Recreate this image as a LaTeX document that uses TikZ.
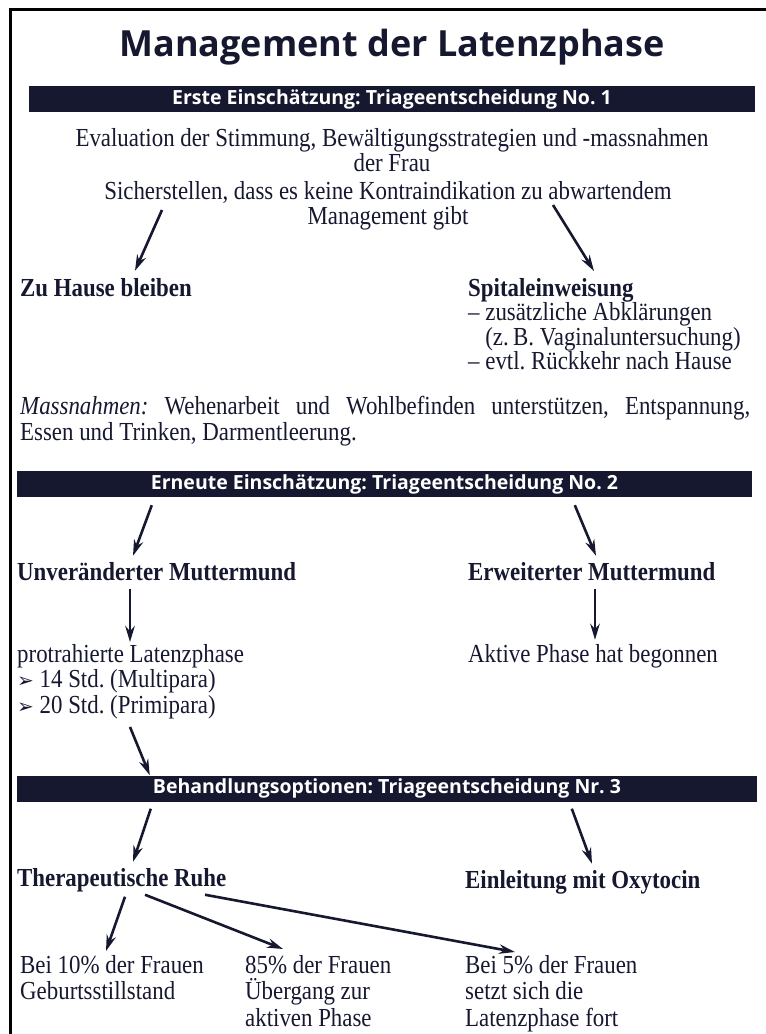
\documentclass[tikz,border=0pt]{standalone}
\usepackage{fontspec}
\setmainfont{Liberation Serif}[FakeStretch=0.88]
\setsansfont{Open Sans}
\newfontfamily\symfont{DejaVu Sans}
\usetikzlibrary{arrows.meta,calc}
\definecolor{ink}{RGB}{22,24,48}
\frenchspacing
\newcommand{\pointer}{{\symfont\fontsize{20}{20}\selectfont ➢}}
\tikzset{
  bar/.style={fill=ink, text=white, font=\sffamily\bfseries\fontsize{19.5}{22}\selectfont, minimum height=26pt, inner sep=0pt},
  txt/.style={text=ink, inner sep=0pt, font=\fontsize{26}{25.5}\selectfont},
  head/.style={text=ink, inner sep=0pt, font=\bfseries\fontsize{26}{25.5}\selectfont},
  arr/.style={ink, line width=2.6pt, -{Stealth[length=16pt,width=9.5pt]}}
}
\begin{document}
\begin{tikzpicture}[x=1pt,y=-1pt]
\useasboundingbox (0,0) rectangle (766,1034);
\draw[line width=3pt] (10,1034) -- (10,9) -- (766,9);

% title and first decision
\node[text=ink, font=\sffamily\bfseries\fontsize{36}{40}\selectfont] (title) at (392,47) {Management der Latenzphase};
\node[bar, minimum width=726pt] (bar1) at (392,99) {Erste Einschätzung: Triageentscheidung No.~1};
\node[txt, align=center, anchor=north] (eval) at (392,128) {Evaluation der Stimmung, Bewältigungsstrategien und -massnahmen\\der Frau};
\node[txt, align=center, anchor=north] (check) at (388,181) {Sicherstellen, dass es keine Kontraindikation zu abwartendem\\Management gibt};
\node[head, anchor=base west] (home) at (20,296) {Zu Hause bleiben};
\node[txt, align=left, anchor=north west, font=\fontsize{26}{24.5}\selectfont] (hosp) at (468,278)
  {\textbf{Spitaleinweisung}\\– zusätzliche Abklärungen\\\hphantom{– }(z.\,B. Vaginaluntersuchung)\\– evtl. Rückkehr nach Hause};
\node[txt, text width=730pt, align=justify, anchor=north west] (measures) at (20,396)
  {\textit{Massnahmen:} Wehenarbeit und Wohlbefinden unterstützen, Entspannung,\linebreak Essen und Trinken, Darmentleerung.};

% second decision
\node[bar, minimum width=735pt] (bar2) at (384.5,484) {Erneute Einschätzung: Triageentscheidung No.~2};
\node[head, anchor=base west] (unch) at (17,580) {Unveränderter Muttermund};
\node[head, anchor=base west] (dil) at (468,580) {Erweiterter Muttermund};
\node[txt, align=left, anchor=north west] (prot) at (17,644) {protrahierte Latenzphase\\\pointer\ 14 Std. (Multipara)\\\pointer\ 20 Std. (Primipara)};
\node[txt, anchor=base west] (active) at (468,662) {Aktive Phase hat begonnen};

% third decision
\node[bar, minimum width=740pt] (bar3) at (387,788.5) {Behandlungsoptionen: Triageentscheidung Nr.~3};
\node[head, anchor=base west] (rest) at (17,886) {Therapeutische Ruhe};
\node[head, anchor=base west] (oxy) at (465,888) {Einleitung mit Oxytocin};
\node[txt, align=left, anchor=north west, font=\fontsize{26}{26.5}\selectfont] (out1) at (20,955) {Bei 10\% der Frauen\\Geburtsstillstand};
\node[txt, align=left, anchor=north west, font=\fontsize{26}{26.5}\selectfont] (out2) at (245,955) {85\% der Frauen\\Übergang zur\\aktiven Phase};
\node[txt, align=left, anchor=north west, font=\fontsize{26}{26.5}\selectfont] (out3) at (465,955) {Bei 5\% der Frauen\\setzt sich die\\Latenzphase fort};

% arrows
\coordinate (s1) at (162,210);
\coordinate (s2) at (553,205);
\draw[arr] (s1) -- ($(home.north west)+(115,-7)$);
\draw[arr] (s2) -- ($(hosp.north west)+(126,-7)$);
\draw[arr] ($(bar2.south west)+(135,8)$) -- ($(unch.north west)+(116,-6)$);
\draw[arr] ($(bar2.south west)+(558,8)$) -- ($(dil.north west)+(128,-6)$);
\draw[arr] ($(unch.south west)+(113,8)$) -- ($(prot.north west)+(113,-2)$);
\draw[arr] ($(dil.south west)+(127,8)$) -- ($(active.north west)+(127,-4)$);
\draw[arr] ($(prot.south west)+(113,8)$) -- ($(bar3.north west)+(133,0)$);
\draw[arr] ($(bar3.south west)+(134,7)$) -- ($(rest.north west)+(116,-6)$);
\draw[arr] ($(bar3.south west)+(555,7)$) -- ($(oxy.north west)+(127,-6)$);
\draw[arr] ($(rest.south west)+(108,5)$) -- ($(out1.north west)+(86,-4)$);
\draw[arr] ($(rest.south west)+(128,3)$) -- ($(out2.north west)+(38,-6)$);
\draw[arr] ($(rest.south west)+(188,3)$) -- ($(out3.north west)+(50,-3)$);
\end{tikzpicture}
\end{document}
